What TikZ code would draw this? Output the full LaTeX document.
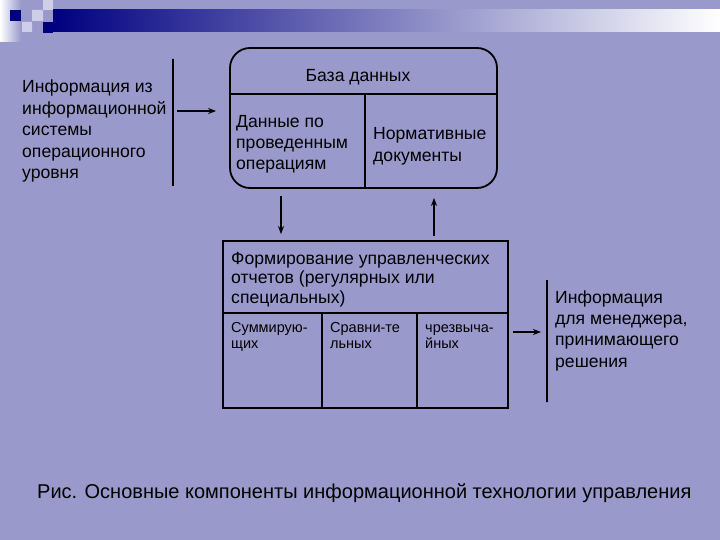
\documentclass[tikz,border=0pt]{standalone}
\usepackage{fontspec}
\setmainfont{Liberation Sans}
\usetikzlibrary{calc, positioning, arrows.meta}
\definecolor{bgblue}{RGB}{153,153,204}
\definecolor{navy}{RGB}{0,0,128}
\definecolor{paleblue}{RGB}{206,206,232}

\begin{document}
\begin{tikzpicture}[x=1pt, y=-1pt,
  txt/.style={anchor=base west, inner sep=0pt, align=left,
    font=\fontsize{17.6}{21.4}\selectfont},
  small/.style={txt, font=\fontsize{14.5}{16}\selectfont},
  frame/.style={draw, line width=1.8pt, inner sep=0pt},
  bar/.style={draw, line width=1.4pt, inner sep=0pt, minimum width=0pt},
  arrow/.style={-{Stealth[length=8pt, width=6pt, inset=2.5pt]}, line width=1.3pt}
]
\fill[bgblue] (0,0) rectangle (720,540);
\useasboundingbox (0,0) rectangle (720,540);

% title bar
\shade[left color=white, right color=bgblue] (0,0) rectangle (21,42);
\fill[navy] (10,10) rectangle (21,21);
\fill[paleblue] (22,22) rectangle (32,32) (32,10) rectangle (43,21) (43,0) rectangle (53,10);
\fill[navy] (43,22) rectangle (53,33);
\shade[left color=navy, right color=white] (53,10) rectangle (720,32);

% input (base = last line)
\node[txt] (src) at (22,178.6) {Информация из\\информационной\\системы\\операционного\\уровня};
\node[bar, minimum height=127pt] (inbar) at (173,122.5) {};

% database
\node[frame, rounded corners=20pt, minimum width=267pt, minimum height=140pt] (db) at (363.5,118) {};
\draw[line width=1.5pt] (db.west |- 0,94) -- (db.east |- 0,94) (365,94) -- (365,188);
\node[txt, anchor=base] (dbtitle) at (358,82) {База данных};
\node[txt] (dbops) at (236,170) {Данные по\\проведенным\\операциям};
\node[txt] (dbdocs) at (373,161.4) {Нормативные\\документы};

% reports
\node[frame, minimum width=285pt, minimum height=167pt] (rep) at (365.5,324.5) {};
\draw[line width=1.5pt] (rep.west |- 0,313) -- (rep.east |- 0,313) (322,313) -- (322,408) (417,313) -- (417,408);
\node[txt, font=\fontsize{17.6}{19.5}\selectfont] (reptitle) at (231,303) {Формирование управленческих\\отчетов (регулярных или\\специальных)};
\node[small] (sum) at (231,348) {Суммирую-\\щих};
\node[small] (cmp) at (330,348) {Сравни-те\\льных};
\node[small] (ext) at (425,348) {чрезвыча-\\йных};

% output
\node[bar, minimum height=122pt] (outbar) at (547,341) {};
\node[txt] (mgr) at (555,367.2) {Информация\\для менеджера,\\принимающего\\решения};

\draw[arrow] ([xshift=4pt, yshift=11.5pt]inbar.center) -- ([xshift=-13pt, yshift=7pt]db.west);
\draw[arrow] ([xshift=-82.5pt, yshift=-7pt]db.south) -- ([xshift=-84.5pt, yshift=6pt]rep.north);
\draw[arrow] ([xshift=68.5pt, yshift=4.5pt]rep.north) -- ([xshift=70.5pt, yshift=-9pt]db.south);
\draw[arrow] ([xshift=4pt, yshift=-7.5pt]rep.east) -- ([xshift=-6pt, yshift=9pt]outbar.center);

\node[txt, font=\fontsize{20}{24}\selectfont] (caption) at (37,498) {Рис. Основные компоненты информационной технологии управления};
\end{tikzpicture}
\end{document}
